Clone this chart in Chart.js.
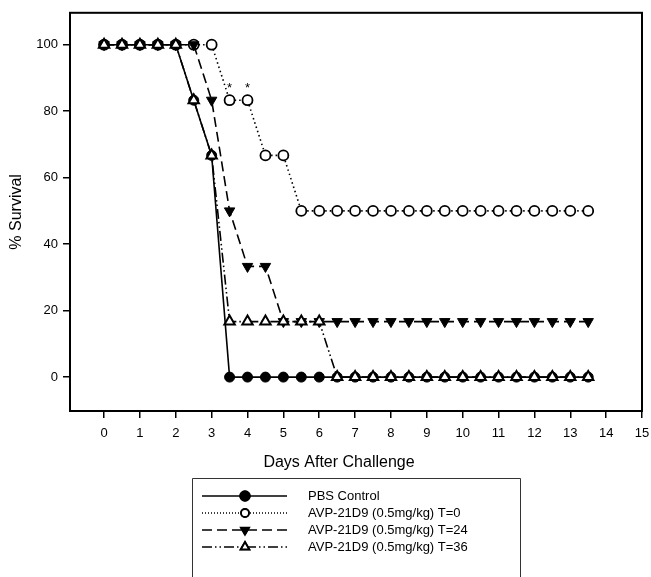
<!DOCTYPE html>
<html>
<head>
<meta charset="utf-8">
<script src="https://cdn.jsdelivr.net/npm/chart.js@4.4.1/dist/chart.umd.min.js"></script>
<style>
  html, body { margin: 0; padding: 0; background: #fff; }
  #wrap { position: relative; width: 651px; height: 577px; }
</style>
</head>
<body>
<div id="wrap"><canvas id="survival"></canvas></div>
<script>
// Days after challenge (sampled every half day)
const days = [0, 0.5, 1, 1.5, 2, 2.5, 3, 3.5, 4, 4.5, 5, 5.5, 6, 6.5, 7, 7.5, 8, 8.5, 9, 9.5, 10, 10.5, 11, 11.5, 12, 12.5, 13, 13.5];

// % survival per group
const pbsControl = [100, 100, 100, 100, 100, 83.3, 66.7, 0, 0, 0, 0, 0, 0, 0, 0, 0, 0, 0, 0, 0, 0, 0, 0, 0, 0, 0, 0, 0];
const avpT0 = [100, 100, 100, 100, 100, 100, 100, 83.3, 83.3, 66.7, 66.7, 50, 50, 50, 50, 50, 50, 50, 50, 50, 50, 50, 50, 50, 50, 50, 50, 50];
const avpT24 = [100, 100, 100, 100, 100, 100, 83.3, 50, 33.3, 33.3, 16.7, 16.7, 16.7, 16.7, 16.7, 16.7, 16.7, 16.7, 16.7, 16.7, 16.7, 16.7, 16.7, 16.7, 16.7, 16.7, 16.7, 16.7];
const avpT36 = [100, 100, 100, 100, 100, 83.3, 66.7, 16.7, 16.7, 16.7, 16.7, 16.7, 16.7, 0, 0, 0, 0, 0, 0, 0, 0, 0, 0, 0, 0, 0, 0, 0];

// significance markers on the T=0 curve
const starDays = [3.5, 4];

const xTicks = [0, 1, 2, 3, 4, 5, 6, 7, 8, 9, 10, 11, 12, 13, 14, 15];
const yTicks = [0, 20, 40, 60, 80, 100];
const xTitle = 'Days After Challenge';

const FONT = '"Liberation Sans", Arial, Helvetica, sans-serif';

function toPoints(values) {
    return days.map((d, i) => ({ x: d, y: values[i] }));
}

const series = [
    {
        label: 'PBS Control', data: toPoints(pbsControl), order: 3,
        borderColor: '#000', borderWidth: 1.6, borderDash: [],
        pointStyle: 'circle', pointRadius: 5, pointRotation: 0,
        pointBackgroundColor: '#000', pointBorderColor: '#000', pointBorderWidth: 1
    },
    {
        label: 'AVP-21D9 (0.5mg/kg) T=0', data: toPoints(avpT0), order: 2,
        borderColor: '#000', borderWidth: 1.6, borderDash: [1.5, 3],
        pointStyle: 'circle', pointRadius: 5, pointRotation: 0,
        pointBackgroundColor: '#fff', pointBorderColor: '#000', pointBorderWidth: 1.8
    },
    {
        label: 'AVP-21D9 (0.5mg/kg) T=24', data: toPoints(avpT24), order: 1,
        borderColor: '#000', borderWidth: 1.6, borderDash: [10, 5],
        pointStyle: 'triangle', pointRadius: 6, pointRotation: 180,
        pointBackgroundColor: '#000', pointBorderColor: '#000', pointBorderWidth: 1
    },
    {
        label: 'AVP-21D9 (0.5mg/kg) T=36', data: toPoints(avpT36), order: 0,
        borderColor: '#000', borderWidth: 1.6, borderDash: [10, 3, 1.5, 3, 1.5, 3],
        pointStyle: 'triangle', pointRadius: 6, pointRotation: 0,
        pointBackgroundColor: '#fff', pointBorderColor: '#000', pointBorderWidth: 2
    }
];

// frame, asterisks, x title and the boxed legend under the axis
const decorations = {
    id: 'decorations',
    afterDatasetsDraw(chart) {
        const { ctx, chartArea: a, scales } = chart;
        ctx.save();
        ctx.strokeStyle = '#000';
        ctx.lineWidth = 2;
        ctx.strokeRect(a.left, a.top, a.right - a.left, a.bottom - a.top);

        ctx.fillStyle = '#000';
        ctx.font = '13px ' + FONT;
        ctx.textAlign = 'center';
        ctx.textBaseline = 'middle';
        starDays.forEach(d => {
            const i = days.indexOf(d);
            ctx.fillText('*', scales.x.getPixelForValue(d), scales.y.getPixelForValue(avpT0[i]) - 12);
        });
        ctx.restore();
    },
    afterDraw(chart) {
        const ctx = chart.ctx;
        ctx.save();
        // x axis title sits a bit left of the frame's centre in the original
        ctx.fillStyle = '#000';
        ctx.font = '16px ' + FONT;
        ctx.textAlign = 'center';
        ctx.textBaseline = 'middle';
        ctx.fillText(xTitle, 339, 463);

        // legend frame (runs off the bottom edge)
        ctx.strokeStyle = '#333';
        ctx.lineWidth = 1;
        ctx.beginPath();
        ctx.moveTo(192.5, 580);
        ctx.lineTo(192.5, 478.5);
        ctx.lineTo(520.5, 478.5);
        ctx.lineTo(520.5, 580);
        ctx.stroke();

        const rowY = [496, 513, 530, 547];
        series.forEach((s, i) => {
            const y = rowY[i];
            ctx.strokeStyle = '#000';
            ctx.lineWidth = s.borderWidth;
            ctx.setLineDash(i === 1 ? [1, 2] : s.borderDash);
            ctx.beginPath();
            ctx.moveTo(202, y);
            ctx.lineTo(287, y);
            ctx.stroke();
            ctx.setLineDash([]);
            Chart.helpers.drawPoint(ctx, {
                pointStyle: s.pointStyle,
                radius: i === 1 ? 4 : 5,
                rotation: s.pointRotation,
                borderWidth: s.pointBorderWidth
            }, 245, y);
            ctx.fillStyle = s.pointBackgroundColor;
            ctx.fill();
            ctx.strokeStyle = '#000';
            ctx.lineWidth = s.pointBorderWidth;
            ctx.stroke();

            ctx.fillStyle = '#000';
            ctx.font = '13px ' + FONT;
            ctx.textAlign = 'left';
            ctx.textBaseline = 'middle';
            ctx.fillText(s.label, 308, y);
        });
        ctx.restore();
    }
};

new Chart(document.getElementById('survival'), {
    type: 'line',
    data: { datasets: series.map(s => Object.assign({ fill: false, tension: 0 }, s)) },
    options: {
        responsive: true,
        maintainAspectRatio: false,
        animation: false,
        layout: { padding: { left: 0, top: 11, right: 9, bottom: 0 } },
        plugins: {
            legend: { display: false },
            tooltip: { enabled: false }
        },
        scales: {
            x: {
                type: 'linear',
                min: -0.95,
                max: 15,
                afterBuildTicks: scale => { scale.ticks = xTicks.map(v => ({ value: v })); },
                afterFit: scale => {
                    scale.height = 166;
                    // let the "15" label hang past the frame like the original
                    scale.paddingRight = 0;
                    scale.paddingLeft = 0;
                },
                grid: { drawOnChartArea: false, drawTicks: true, tickLength: 7, color: '#000', lineWidth: 1.5 },
                border: { display: false },
                ticks: { color: '#000', font: { family: FONT, size: 13 }, padding: 8, maxRotation: 0 },
                title: { display: false }
            },
            y: {
                min: -10.2,
                max: 109.6,
                afterBuildTicks: scale => { scale.ticks = yTicks.map(v => ({ value: v })); },
                afterFit: scale => { scale.width = 70; },
                grid: { drawOnChartArea: false, drawTicks: true, tickLength: 7, color: '#000', lineWidth: 1.5 },
                border: { display: false },
                ticks: { color: '#000', font: { family: FONT, size: 13 }, padding: 5 },
                title: {
                    display: true, text: '% Survival', color: '#000',
                    font: { family: FONT, size: 16 }, padding: { top: 7, bottom: 0 }
                }
            }
        }
    },
    plugins: [decorations]
});
</script>
</body>
</html>
